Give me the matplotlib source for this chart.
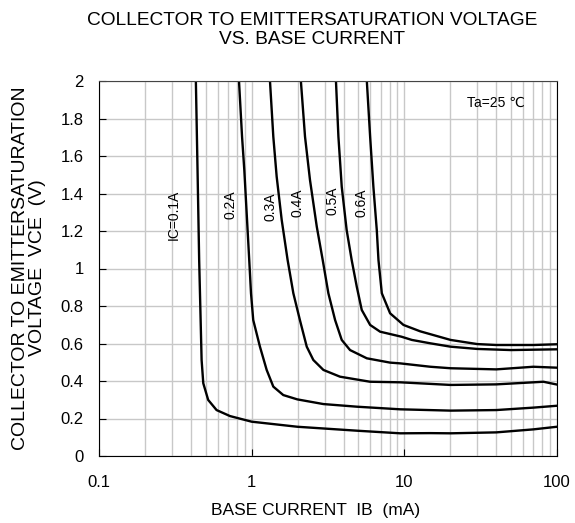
import numpy as np
import matplotlib
matplotlib.use("Agg")
import matplotlib.pyplot as plt

plt.rcParams['font.family'] = ['Liberation Sans', 'DejaVu Sans']

# base current IB (mA) / collector-emitter saturation voltage VCE (V), one pair per IC
ib_01 = [0.431, 0.442, 0.453, 0.470, 0.482, 0.519, 0.589, 0.721, 1.0, 1.99, 4.88, 9.4, 14.8, 20.1, 40, 70, 100]
vce_01 = [2.0, 1.525, 1.045, 0.512, 0.388, 0.299, 0.245, 0.213, 0.183, 0.156, 0.135, 0.121, 0.122, 0.121, 0.126, 0.142, 0.156]

ib_02 = [0.826, 0.865, 0.895, 0.964, 0.99, 1.024, 1.133, 1.254, 1.386, 1.611, 1.99, 2.95, 4.88, 9.4, 20.1, 40, 70, 100]
vce_02 = [2.0, 1.703, 1.525, 1.045, 0.868, 0.725, 0.583, 0.459, 0.37, 0.325, 0.302, 0.277, 0.263, 0.249, 0.242, 0.245, 0.258, 0.268]

ib_03 = [1.318, 1.386, 1.458, 1.573, 1.72, 1.875, 2.07, 2.295, 2.535, 2.95, 3.79, 5.97, 9.4, 20.1, 40, 81.5, 100]
vce_03 = [2.0, 1.703, 1.49, 1.259, 1.045, 0.868, 0.725, 0.583, 0.512, 0.459, 0.423, 0.396, 0.393, 0.379, 0.382, 0.396, 0.381]

ib_04 = [2.105, 2.236, 2.41, 2.67, 2.92, 3.18, 3.52, 3.89, 4.41, 5.68, 8.07, 9.4, 14.8, 20.1, 40, 70, 100]
vce_04 = [1.99, 1.703, 1.472, 1.223, 1.045, 0.868, 0.725, 0.619, 0.565, 0.521, 0.498, 0.494, 0.476, 0.468, 0.462, 0.476, 0.471]

ib_05 = [3.57, 3.70, 3.89, 4.19, 4.52, 4.88, 5.26, 5.97, 6.94, 9.6, 11.2, 14.8, 20.1, 30, 50, 100]
vce_05 = [1.99, 1.703, 1.436, 1.205, 1.045, 0.903, 0.779, 0.699, 0.663, 0.636, 0.619, 0.601, 0.583, 0.571, 0.565, 0.569]

ib_06 = [5.68, 5.97, 6.27, 6.6, 6.77, 7.12, 8.07, 9.87, 12.7, 20.1, 30, 40, 70, 100]
vce_06 = [2.0, 1.703, 1.436, 1.205, 1.045, 0.868, 0.761, 0.699, 0.665, 0.619, 0.597, 0.592, 0.592, 0.596]

curve_labels = ['IC=0.1A', '0.2A', '0.3A', '0.4A', '0.5A', '0.6A']
label_x = [0.31, 0.73, 1.32, 2.01, 3.36, 5.21]
label_y = [1.285, 1.34, 1.33, 1.35, 1.36, 1.35]

yticks = [0, 0.2, 0.4, 0.6, 0.8, 1.0, 1.2, 1.4, 1.6, 1.8, 2.0]
ytick_labels = ['0', '0.2', '0.4', '0.6', '0.8', '1', '1.2', '1.4', '1.6', '1.8', '2']
xticks = [0.1, 1, 10, 100]
xtick_labels = ['0.1', '1', '10', '100']

curves = [(ib_01, vce_01), (ib_02, vce_02), (ib_03, vce_03),
          (ib_04, vce_04), (ib_05, vce_05), (ib_06, vce_06)]

fig = plt.figure(figsize=(5.75, 5.23), dpi=100)
ax = fig.add_axes([99 / 575, 67 / 523, 458 / 575, 375 / 523])

for ib, vce in curves:
    ax.plot(ib, vce, color='black', lw=1.7, solid_joinstyle='round')

for t, x, y in zip(curve_labels, label_x, label_y):
    ax.text(x, y, t, rotation=90, ha='center', va='center', fontsize=10)

ax.text(40, 1.883, 'Ta=25 \u2103', ha='center', va='center', fontsize=10)

ax.set_xscale('log')
ax.set_xlim(0.1, 100)
ax.set_ylim(0, 2)
ax.set_yticks(yticks)
ax.set_yticklabels(ytick_labels)
ax.set_xticks(xticks)
ax.set_xticklabels(xtick_labels)
ax.grid(True, which='both', color='#c8c8c8', lw=1)
ax.tick_params(axis='both', which='major', direction='in', length=5, labelsize=12)
ax.tick_params(axis='y', pad=11)
ax.tick_params(axis='x', pad=14)
ax.tick_params(axis='x', which='minor', length=0)
ax.set_axisbelow(True)
for s in ax.spines.values():
    s.set_color('#444444')
ax.spines['left'].set_color('black')
ax.spines['bottom'].set_color('black')
ax.spines['right'].set_color('black')

fig.text(312 / 575, 1 - 30 / 523, 'COLLECTOR TO EMITTERSATURATION VOLTAGE\nVS. BASE CURRENT',
         ha='center', va='center', fontsize=13.8, linespacing=1.12)
fig.text(316 / 575, 1 - 511 / 523, 'BASE CURRENT  IB  (mA)', ha='center', va='center', fontsize=12.5)
fig.text(29 / 575, 1 - 268 / 523, 'COLLECTOR TO EMITTERSATURATION\nVOLTAGE  VCE  (V)',
         ha='center', va='center', rotation=90, fontsize=14, linespacing=1.05)

fig.savefig('out.png', dpi=100)
